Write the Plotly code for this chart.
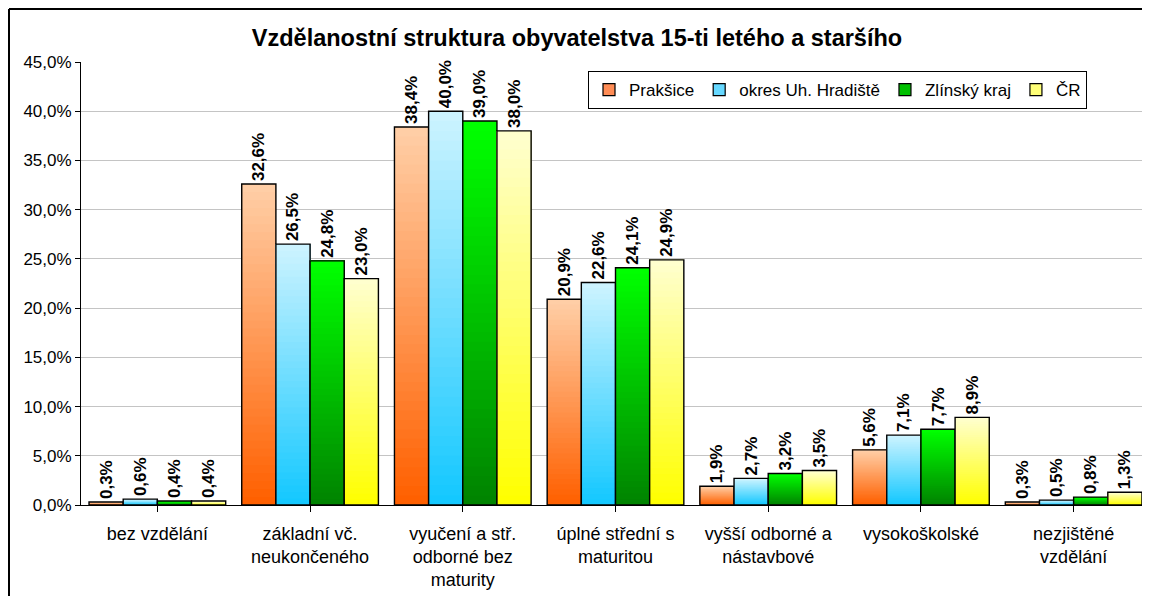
import plotly.graph_objects as go

categories = [
    "bez vzdělání",
    "základní vč.<br>neukončeného",
    "vyučení a stř.<br>odborné bez<br>maturity",
    "úplné střední s<br>maturitou",
    "vyšší odborné a<br>nástavbové",
    "vysokoškolské",
    "nezjištěné<br>vzdělání",
]
series_names = ["Prakšice", "okres Uh. Hradiště", "Zlínský kraj", "ČR"]
praksice = [0.3, 32.6, 38.4, 20.9, 1.9, 5.6, 0.3]
okres = [0.6, 26.5, 40.0, 22.6, 2.7, 7.1, 0.5]
zlinsky = [0.4, 24.8, 39.0, 24.1, 3.2, 7.7, 0.8]
cr = [0.4, 23.0, 38.0, 24.9, 3.5, 8.9, 1.3]
y_ticks = [0, 5, 10, 15, 20, 25, 30, 35, 40, 45]
y_ticktext = [f"{v:.1f}".replace(".", ",") + "%" for v in y_ticks]

series_values = [praksice, okres, zlinsky, cr]
# gradient colours: (bottom, top)
grad = [
    ((255, 96, 0), (255, 206, 166)),
    ((20, 200, 255), (204, 243, 255)),
    ((0, 132, 0), (0, 255, 0)),
    ((255, 255, 0), (255, 255, 206)),
]
legend_cols = ["#FF8C55", "#66D8FF", "#00C000", "#FFFF77"]

FONT = "Liberation Sans, Arial, sans-serif"
N = 40

fig = go.Figure()
x_idx = list(range(len(categories)))

for s, (name, vals) in enumerate(zip(series_names, series_values)):
    (b0, b1) = grad[s]
    for i in range(N):
        t = i / (N - 1)
        col = "rgb({},{},{})".format(*[round(b0[k] + (b1[k] - b0[k]) * t) for k in range(3)])
        fig.add_trace(go.Bar(
            x=x_idx, y=[v * (N - i) / N for v in vals], base=[v * i / N for v in vals],
            offsetgroup=str(s), marker=dict(color=col, line=dict(width=0)),
            showlegend=False, hoverinfo="skip",
        ))
    labels = [f"{v:.1f}".replace(".", ",") + "%" for v in vals]
    fig.add_trace(go.Bar(
        x=x_idx, y=vals, offsetgroup=str(s),
        marker=dict(color="rgba(0,0,0,0)", line=dict(color="black", width=1.4)),
        text=labels, textposition="outside", textangle=-90, constraintext="none",
        textfont=dict(family=FONT, size=17, color="black", weight="bold"),
        cliponaxis=False, showlegend=False, name=name,
    ))
    fig.add_trace(go.Bar(
        x=[None], y=[None], offsetgroup=str(s), name=name,
        marker=dict(color=legend_cols[s], line=dict(color="black", width=1.2)),
    ))

# page is offset by 8px (browser body margin)
W, H = 1142, 588
L, T, B, R = 73, 54, 91, 0
pw, ph = W - L - R, H - T - B

fx0 = (1 - L) / pw          # left frame edge (paper)
fy1 = (H - B - 1) / ph      # top frame edge (paper)

fig.update_layout(
    width=W, height=H,
    margin=dict(l=L, r=R, t=T, b=B),
    paper_bgcolor="white", plot_bgcolor="white",
    barmode="group", bargap=0.105, bargroupgap=0,
    separators=",.",
    font=dict(family=FONT, size=17, color="black"),
    title=dict(text="<b>Vzdělanostní struktura obyvatelstva 15-ti letého a staršího</b>",
               x=569 / W, xanchor="center", y=1 - 30 / H, yanchor="middle", yref="container",
               font=dict(family=FONT, size=23.5, color="black")),
    legend=dict(orientation="h", x=(580 - L) / pw, xanchor="left",
                y=(H - B - 63) / ph, yanchor="top",
                bgcolor="white", bordercolor="black", borderwidth=1,
                font=dict(family=FONT, size=17, color="black"),
                traceorder="normal"),
    xaxis=dict(tickmode="array", tickvals=x_idx, ticktext=categories,
               range=[-0.5, len(categories) - 0.5],
               showline=True, linecolor="black", linewidth=1,
               ticks="outside", tickson="boundaries", ticklen=6, tickcolor="black",
               ticklabelstandoff=6,
               showgrid=False, tickfont=dict(family=FONT, size=18, color="black")),
    yaxis=dict(range=[0, 45], tickmode="array", tickvals=y_ticks, ticktext=y_ticktext,
               showline=True, linecolor="black", linewidth=1,
               ticks="outside", ticklen=5, tickcolor="black",
               showgrid=True, gridcolor="#C4C4C4", gridwidth=1, zeroline=False,
               tickfont=dict(family=FONT, size=17, color="black")),
    shapes=[
        dict(type="line", xref="paper", yref="paper", x0=fx0, x1=fx0,
             y0=-(H + 20 - (H - B)) / ph, y1=fy1, line=dict(color="black", width=2)),
        dict(type="line", xref="paper", yref="paper", x0=fx0, x1=(W + 20 - L) / pw,
             y0=fy1, y1=fy1, line=dict(color="black", width=2)),
    ],
)

fig.write_html("out.html")
